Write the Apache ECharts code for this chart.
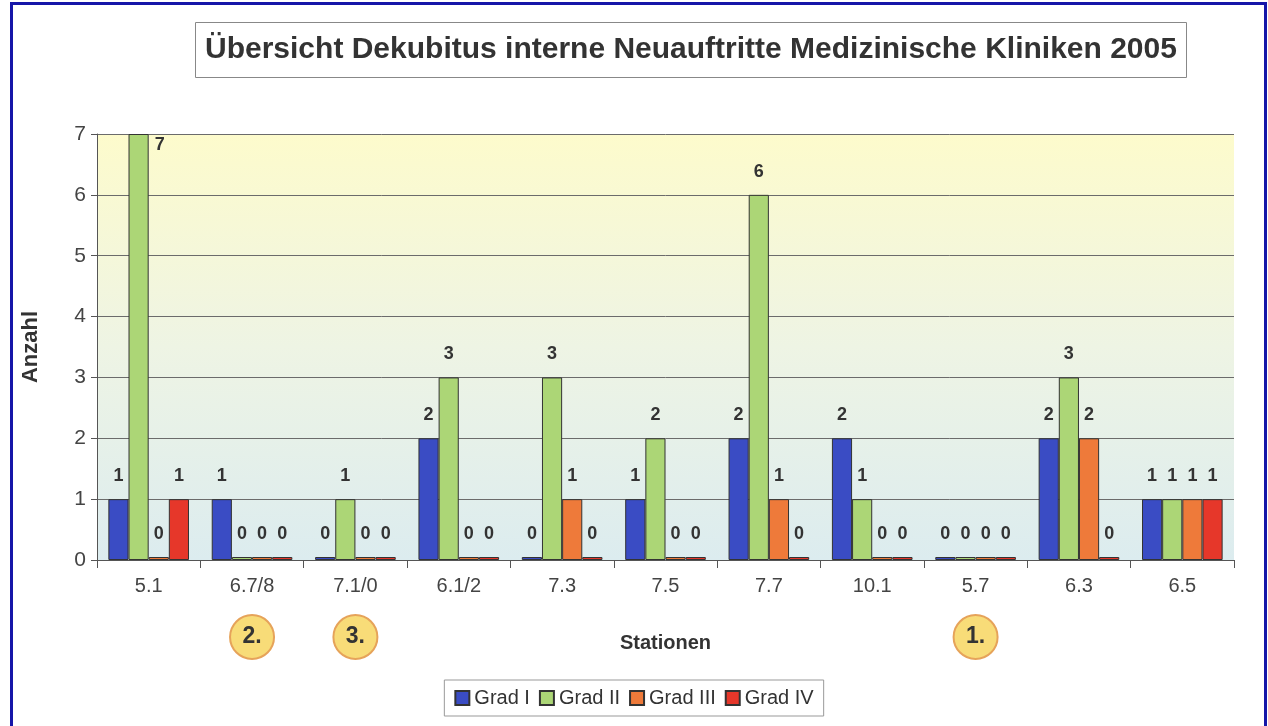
<!DOCTYPE html>
<html>
<head>
<meta charset="utf-8">
<script src="https://cdn.jsdelivr.net/npm/echarts@6/dist/echarts.min.js"></script>
<style>
    html, body { margin: 0; padding: 0; background: #fff; overflow: hidden; }
    #frame { position: absolute; left: 10px; top: 2px; width: 1251px; height: 740px; border: 3px solid #1616a8; }
    #chart { position: absolute; left: 0; top: 0; width: 1268px; height: 726px; }
</style>
</head>
<body>
<div id="frame"></div>
<div id="chart"></div>
<script>
// Stationen und Werte je Dekubitus-Grad
const stationen = ['5.1', '6.7/8', '7.1/0', '6.1/2', '7.3', '7.5', '7.7', '10.1', '5.7', '6.3', '6.5'];
const gradI   = [1, 1, 0, 2, 0, 1, 2, 2, 0, 2, 1];
const gradII  = [7, 0, 1, 3, 3, 2, 6, 1, 0, 3, 1];
const gradIII = [0, 0, 0, 0, 1, 0, 1, 0, 0, 2, 1];
const gradIV  = [1, 0, 0, 0, 0, 0, 0, 0, 0, 0, 1];
const yTicks = [0, 1, 2, 3, 4, 5, 6, 7];

// Rangfolge-Markierungen unter der Achse
const ranking = [
    { station: '5.7', label: '1.' },
    { station: '6.7/8', label: '2.' },
    { station: '7.1/0', label: '3.' }
];

const yMax = yTicks[yTicks.length - 1];
const chart = echarts.init(document.getElementById('chart'));

function barSeries(name, values, color) {
    // Balken am oberen Rand bekommen die Beschriftung rechts daneben
    const data = values.map(v => v >= yMax
        ? { value: v, label: { position: ['130%', 2] } }
        : v);
    return {
        name: name,
        type: 'bar',
        data: data,
        barMinHeight: 3,
        itemStyle: { color: color, borderColor: '#333', borderWidth: 1 },
        label: {
            show: true,
            position: 'top',
            distance: 14,
            fontSize: 18,
            fontWeight: 'bold',
            color: '#333',
            fontFamily: 'Liberation Sans'
        }
    };
}

const option = {
    animation: false,
    textStyle: { fontFamily: 'Liberation Sans' },
    title: {
        text: 'Übersicht Dekubitus interne Neuauftritte Medizinische Kliniken 2005',
        left: 195,
        top: 22,
        padding: [13, 10],
        borderColor: '#888',
        borderWidth: 1,
        textStyle: { fontSize: 30, fontWeight: 'bold', color: '#333' }
    },
    legend: {
        bottom: 10,
        left: 'center',
        icon: 'rect',
        itemWidth: 14,
        itemHeight: 14,
        itemGap: 9,
        padding: [8, 10],
        borderColor: '#999',
        borderWidth: 1,
        backgroundColor: '#fff',
        textStyle: { fontSize: 20, color: '#333' },
        data: ['Grad I', 'Grad II', 'Grad III', 'Grad IV']
    },
    grid: {
        left: 97,
        right: 34,
        top: 134,
        bottom: 166,
        show: true,
        borderWidth: 0,
        backgroundColor: new echarts.graphic.LinearGradient(0, 0, 0, 1, [
            { offset: 0, color: '#fdfbcc' },
            { offset: 0.5, color: '#eef4e4' },
            { offset: 1, color: '#dcecef' }
        ])
    },
    xAxis: {
        type: 'category',
        data: stationen,
        name: 'Stationen',
        nameLocation: 'middle',
        nameGap: 73,
        nameTextStyle: { fontSize: 20, fontWeight: 'bold', color: '#333' },
        axisLine: { lineStyle: { color: '#555' } },
        axisTick: { show: true, length: 8, lineStyle: { color: '#555' } },
        axisLabel: { fontSize: 20, color: '#444', margin: 16 }
    },
    yAxis: {
        type: 'value',
        min: 0,
        max: yMax,
        interval: 1,
        name: 'Anzahl',
        nameLocation: 'middle',
        nameGap: 55,
        nameRotate: 90,
        nameTextStyle: { fontSize: 22, fontWeight: 'bold', color: '#333' },
        axisLine: { show: true, lineStyle: { color: '#555' } },
        axisTick: { show: true, length: 6, lineStyle: { color: '#555' } },
        axisLabel: { fontSize: 21, color: '#444', margin: 11 },
        splitLine: { lineStyle: { color: '#6b6b6b', width: 1 } }
    },
    series: [
        Object.assign(barSeries('Grad I', gradI, '#3a4cc4'), { barGap: '0%', barCategoryGap: '22%' }),
        barSeries('Grad II', gradII, '#acd676'),
        barSeries('Grad III', gradIII, '#ee7a3a'),
        barSeries('Grad IV', gradIV, '#e6372a')
    ]
};

chart.setOption(option);

// Gelbe Kreise mit Rang unter den Kategorien
const circleY = 637;
chart.setOption({
    graphic: ranking.map(r => ({
        type: 'group',
        x: chart.convertToPixel({ xAxisIndex: 0 }, r.station),
        y: circleY,
        children: [
            {
                type: 'circle',
                shape: { cx: 0, cy: 0, r: 22 },
                style: { fill: '#f8dc78', stroke: '#e6a35a', lineWidth: 2 }
            },
            {
                type: 'text',
                x: 0,
                y: 0,
                style: {
                    text: r.label,
                    fontSize: 23,
                    fontWeight: 'bold',
                    fill: '#333',
                    align: 'center',
                    verticalAlign: 'middle',
                    fontFamily: 'Liberation Sans'
                }
            }
        ]
    }))
});
</script>
</body>
</html>
